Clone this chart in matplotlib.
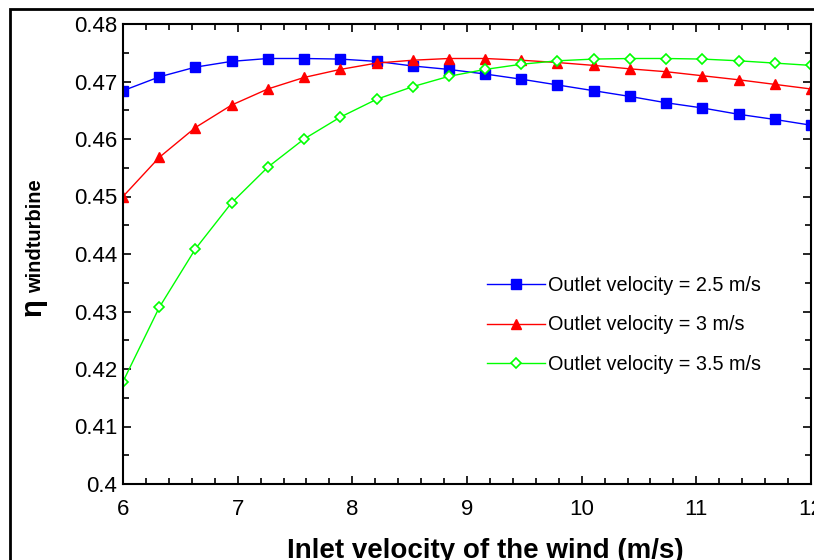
import matplotlib
matplotlib.use("Agg")
import matplotlib.pyplot as plt
from matplotlib.patches import Rectangle
from matplotlib.ticker import MultipleLocator, FuncFormatter

plt.rcParams['font.family'] = ['Liberation Sans', 'DejaVu Sans']

inlet_velocity = [6.0, 6.316, 6.632, 6.947, 7.263, 7.579, 7.895, 8.211, 8.526, 8.842,
                  9.158, 9.474, 9.789, 10.105, 10.421, 10.737, 11.053, 11.368, 11.684, 12.0]
eta_25 = [0.4684, 0.4708, 0.4725, 0.4735, 0.4740, 0.4740, 0.4739, 0.4735, 0.4727, 0.4721,
          0.4713, 0.4704, 0.4694, 0.4684, 0.4674, 0.4663, 0.4654, 0.4643, 0.4634, 0.4624]
eta_30 = [0.4500, 0.4568, 0.4620, 0.4659, 0.4687, 0.4707, 0.4721, 0.4732, 0.4737, 0.4740,
          0.4740, 0.4737, 0.4733, 0.4728, 0.4722, 0.4717, 0.4710, 0.4703, 0.4695, 0.4687]
eta_35 = [0.4178, 0.4307, 0.4409, 0.4489, 0.4551, 0.4600, 0.4638, 0.4669, 0.4691, 0.4709,
          0.4721, 0.4730, 0.4736, 0.4739, 0.4740, 0.4740, 0.4739, 0.4736, 0.4732, 0.4728]
labels = ['Outlet velocity = 2.5 m/s', 'Outlet velocity = 3 m/s', 'Outlet velocity = 3.5 m/s']

W, H = 814, 560
fig = plt.figure(figsize=(W / 100, H / 100), dpi=100)
ax = fig.add_axes([123 / W, 1 - 484 / H, (811 - 123) / W, (484 - 24) / H])

ax.plot(inlet_velocity, eta_25, color='#0000ff', lw=1.0, marker='s', ms=7,
        mec='#0000ff', mfc='#0000ff', label=labels[0])
ax.plot(inlet_velocity, eta_30, color='#ff0000', lw=1.0, marker='^', ms=7.5,
        mec='#ff0000', mfc='#ff0000', label=labels[1])
ax.plot(inlet_velocity, eta_35, color='#00ff00', lw=1.0, marker='D', ms=5.5,
        mec='#00ff00', mfc='white', mew=1.2, label=labels[2])

ax.set_xlim(6, 12)
ax.set_ylim(0.40, 0.48)
ax.xaxis.set_major_locator(MultipleLocator(1))
ax.xaxis.set_minor_locator(MultipleLocator(0.2))
ax.yaxis.set_major_locator(MultipleLocator(0.01))
ax.yaxis.set_minor_locator(MultipleLocator(0.005))
ax.yaxis.set_major_formatter(FuncFormatter(lambda v, p: ('%.2f' % v).rstrip('0')))
ax.tick_params(which='both', direction='in', top=True, right=True, labelsize=16,
               width=1.2)
ax.tick_params(which='major', length=6)
ax.tick_params(which='minor', length=4)
ax.tick_params(axis='x', pad=11)
ax.tick_params(axis='y', pad=4)
for s in ax.spines.values():
    s.set_linewidth(1.5)

leg = ax.legend(loc='upper left', bbox_to_anchor=((487 - 123) / (811 - 123), 1 - (276 - 24) / (484 - 24)),
                frameon=False, fontsize=14.3, handlelength=2.9, handletextpad=0.15,
                labelspacing=1.03, borderaxespad=0, borderpad=0)

# x label
fig.text(485 / W, 1 - 558 / H, 'Inlet velocity of the wind (m/s)', ha='center', va='baseline',
         fontsize=20, fontweight='bold')
# y label: eta with subscript
fig.text(47 / W, 1 - 307 / H, '\u03b7', rotation=90, ha='right', va='center',
         fontsize=21, fontweight='bold')
fig.text(45 / W, 1 - 236 / H, 'windturbine', rotation=90, ha='right', va='center',
         fontsize=14.5, fontweight='bold')

# outer frame
fig.add_artist(Rectangle((10 / W, -0.2), 1.2, (H - 9) / H + 0.2, transform=fig.transFigure,
                         fill=False, lw=2, ec='black'))

fig.savefig('out.png', dpi=100)
